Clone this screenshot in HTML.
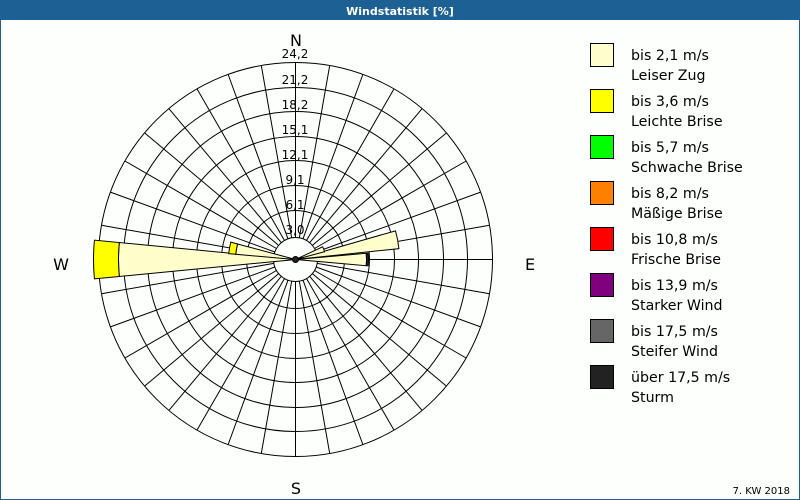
<!DOCTYPE html>
<html><head><meta charset="utf-8"><style>
html,body{margin:0;padding:0;background:#fff;}
#c{position:relative;width:800px;height:500px;overflow:hidden;font-family:"DejaVu Sans","Liberation Sans",sans-serif;background:#fcfffc;}
</style></head><body><div id="c">
<svg id="s" width="800" height="500" viewBox="0 0 800 500" xmlns="http://www.w3.org/2000/svg" style="position:absolute;left:0;top:0">
<rect x="0.5" y="0.5" width="799" height="499" fill="#fcfffc" stroke="#1c6094"/>
<rect x="0" y="0" width="800" height="20" fill="#1c6094"/>
<text x="400" y="15" fill="#fff" font-size="11" font-weight="bold" text-anchor="middle" font-family="DejaVu Sans, sans-serif">Windstatistik [%]</text>
<g id="grid" stroke="#000" stroke-width="1" fill="none"></g>
<g id="bars" stroke="#000" stroke-width="1"></g>
<g font-size="12" fill="#000" text-anchor="middle">
<text x="295" y="58">24,2</text><text x="295" y="84">21,2</text><text x="295" y="109">18,2</text>
<text x="295" y="134">15,1</text><text x="295" y="159">12,1</text><text x="295" y="184">9,1</text>
<text x="295" y="209">6,1</text><text x="295" y="234">3,0</text>
</g>
<g font-size="16" fill="#000" text-anchor="middle">
<text x="296" y="46">N</text><text x="530" y="270">E</text><text x="296" y="494">S</text><text x="61" y="270">W</text>
</g>
<text x="790" y="494" font-size="10" text-anchor="end">7. KW 2018</text>
<g id="leg" font-size="14.2" fill="#000"></g>
</svg>
<script>
var cx=295.5,cy=259.5,ns="http://www.w3.org/2000/svg";
function el(p,t,a){var e=document.createElementNS(ns,t);for(var k in a)e.setAttribute(k,a[k]);p.appendChild(e);return e;}
function pt(r,a){var t=(a-90)*Math.PI/180;return [cx+r*Math.cos(t),cy+r*Math.sin(t)];}
var g=document.getElementById('grid');
[22,49,74,99,123,148,172,197].forEach(function(r){el(g,'circle',{cx:cx,cy:cy,r:r});});
for(var a=0;a<360;a+=10){var p1=pt(22,a),p2=pt(197,a);el(g,'line',{x1:p1[0],y1:p1[1],x2:p2[0],y2:p2[1]});}
var b=document.getElementById('bars');
function sec(a,hw,r1,r2,f){var A=pt(r1,a-hw),B=pt(r2,a-hw),C=pt(r2,a+hw),D=pt(r1,a+hw);
el(b,'path',{d:'M'+A+'L'+B+'A'+r2+' '+r2+' 0 0 1 '+C+'L'+D+'A'+r1+' '+r1+' 0 0 0 '+A+'Z',fill:f});}
sec(270,5.5,2,177,'#ffffcc');sec(270,5.5,177,202,'#ffff00');
sec(280,5,2,60,'#ffffcc');sec(280,5,60,67,'#ffff00');
sec(79,5,2,104,'#ffffcc');sec(90,5,2,71,'#ffffcc');sec(90,5,71,73,'#222');
sec(70,5,2,30,'#ffffcc');
el(b,'circle',{cx:cx,cy:cy,r:3,fill:'#222'});
var L=document.getElementById('leg');
var items=[['#ffffcc','bis 2,1 m/s','Leiser Zug'],['#ffff00','bis 3,6 m/s','Leichte Brise'],['#00ff00','bis 5,7 m/s','Schwache Brise'],['#ff8000','bis 8,2 m/s','Mäßige Brise'],['#ff0000','bis 10,8 m/s','Frische Brise'],['#800080','bis 13,9 m/s','Starker Wind'],['#666666','bis 17,5 m/s','Steifer Wind'],['#222222','über 17,5 m/s','Sturm']];
items.forEach(function(it,i){var y=43+i*46;el(L,'rect',{x:590.5,y:y+.5,width:23,height:23,fill:it[0],stroke:'#000'});
var t=el(L,'text',{x:631,y:y+17});t.textContent=it[1];var t2=el(L,'text',{x:631,y:y+37});t2.textContent=it[2];});
</script>
</div></body></html>
